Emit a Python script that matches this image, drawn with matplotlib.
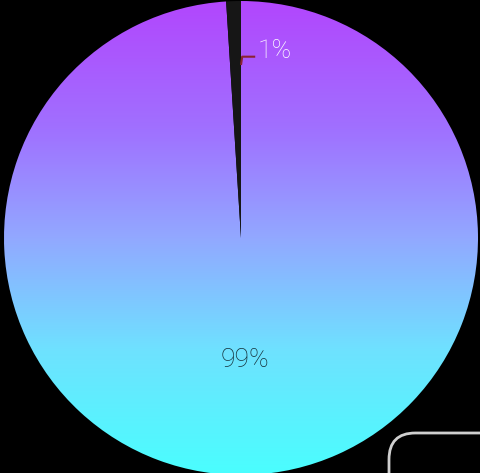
import numpy as np
from matplotlib import pyplot as plt
from matplotlib.colors import LinearSegmentedColormap
from matplotlib.patches import FancyBboxPatch

# share of each slice, drawn counterclockwise from 12 o'clock
labels = ["1%", "99%"]
shares = [1, 99]

# gradient stops, bottom -> top of the pie
grad_stops = [0.0, 0.26, 0.50, 0.73, 1.0]
grad_colors = ["#4afefe", "#6ee2ff", "#92a8ff", "#a070ff", "#b246fd"]

W, H = 480, 473
cx, cy, r = 241, 235, 237  # pie centre (from bottom) and radius, px

fig = plt.figure(figsize=(W / 100, H / 100), dpi=100, facecolor="black")
ax = fig.add_axes([0, 0, 1, 1])
ax.set_facecolor("black")

wedges, _ = ax.pie(shares, startangle=90, counterclock=True, radius=1,
                   colors=["#161616", "none"],
                   wedgeprops=dict(linewidth=0))

# vertical gradient for the big slice
cmap = LinearSegmentedColormap.from_list("grad", list(zip(grad_stops, grad_colors)))
grad = np.linspace(0, 1, 256).reshape(-1, 1)
img = ax.imshow(grad, cmap=cmap, origin="lower", extent=[-1, 1, -1, 1],
                aspect="auto", zorder=0)
img.set_clip_path(wedges[1])
ax.set_xlim(-cx / r, (W - cx) / r)
ax.set_ylim(-cy / r, (H - cy) / r)
ax.axis("off")

font = dict(family="Roboto", fontweight="light", fontsize=19)

# 99% label at the slice centroid
mid = np.deg2rad((wedges[1].theta1 + wedges[1].theta2) / 2)
ax.text(0.51 * np.cos(mid), 0.51 * np.sin(mid) - 0.005, labels[1],
        ha="center", va="center", color="#15303a", **font)

# 1% label with a small elbow leader line
t = np.deg2rad(wedges[0].theta1)
x0, y0 = 0.73 * np.cos(t), 0.73 * np.sin(t)
ax.plot([x0, x0 + 0.005, x0 + 0.06], [y0, y0 + 0.035, y0 + 0.035],
        color="#8a2233", lw=1.5, solid_capstyle="butt")
ax.text(x0 + 0.072, 0.79, labels[0], ha="left", va="center", color="white",
        **font)

# rounded box in the bottom right corner
box = FancyBboxPatch((389 / W, -40 / H), 130 / W, 80 / H,
                     boxstyle="round,pad=0,rounding_size=0.055",
                     transform=fig.transFigure, facecolor="none",
                     edgecolor="#cfcfcf", lw=2, mutation_aspect=W / H)
fig.patches.append(box)

fig.savefig("out.png", dpi=100, facecolor="black")
